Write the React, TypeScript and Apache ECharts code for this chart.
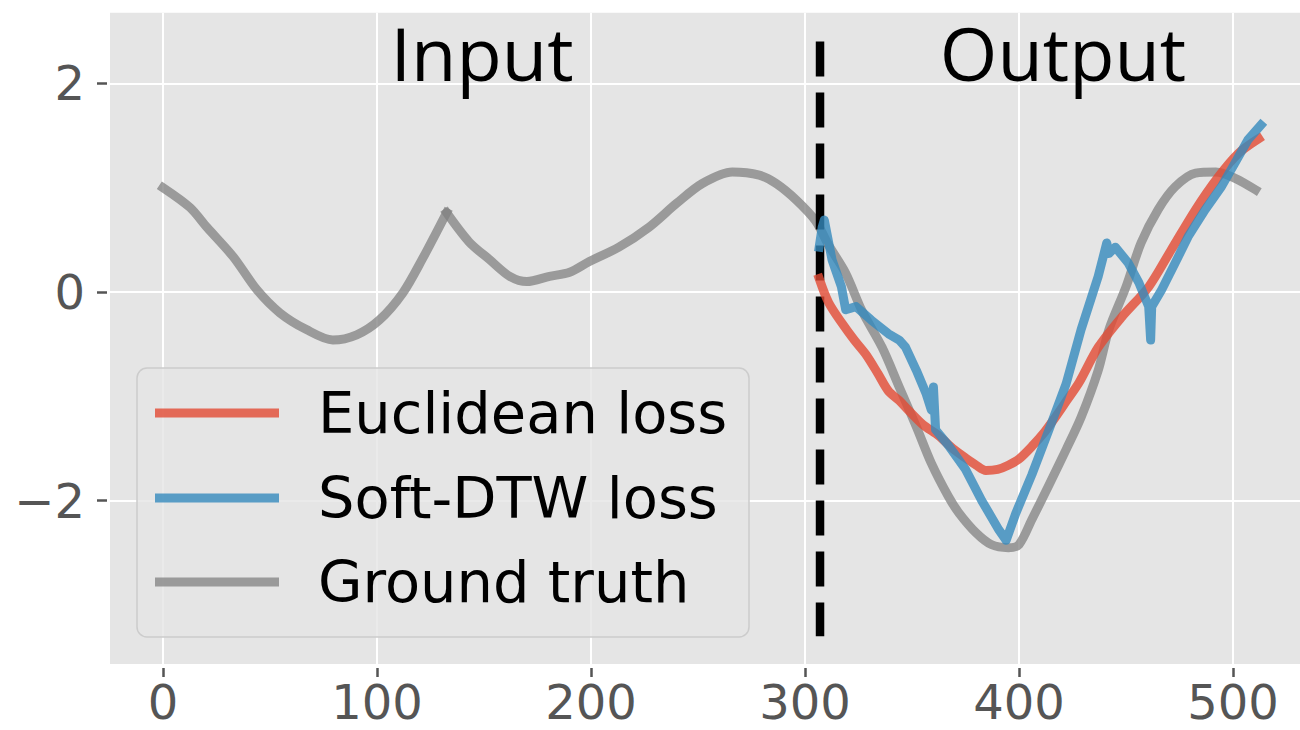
import React, { useEffect, useRef } from "react";
import * as echarts from "echarts";

// Ground truth series (input window followed by the true continuation)
const truthX = [0, 12.6, 20.5, 32.7, 43.9, 54.6, 67, 79.3, 90.5, 101, 112, 121, 132.5, 143, 152.6, 162, 170, 180.6, 190, 199, 213, 227, 240, 252, 266, 278.6, 286.5, 296, 305, 311, 319, 326.6, 336, 344, 352, 359, 367, 372, 380, 387, 395, 400, 406, 414, 422, 429, 437, 442, 450, 457, 465, 473, 482.5, 492, 501, 510.5];
const truthY = [1.0, 0.81, 0.62, 0.34, 0.02, -0.2, -0.36, -0.46, -0.41, -0.27, -0.01, 0.31, 0.76, 0.48, 0.31, 0.15, 0.1, 0.15, 0.19, 0.29, 0.43, 0.62, 0.85, 1.04, 1.15, 1.12, 1.04, 0.88, 0.68, 0.45, 0.18, -0.18, -0.53, -0.91, -1.29, -1.64, -1.96, -2.12, -2.31, -2.42, -2.45, -2.42, -2.18, -1.85, -1.51, -1.2, -0.75, -0.36, 0.05, 0.47, 0.79, 1.01, 1.14, 1.15, 1.09, 0.98];
// Index of the sharp spike in the ground truth (kept as a corner)
const truthSpikeIndex = 12;

// Forecast trained with the Euclidean loss
const euclidX = [306.6, 311, 317.3, 323, 328.5, 334, 339, 344, 348.6, 355, 362.6, 369, 375, 380, 384.5, 390, 395, 400, 406, 412, 417, 422, 428, 437, 448, 460.6, 471, 482.5, 493, 502.6, 512];
const euclidY = [0.13, -0.1, -0.3, -0.46, -0.6, -0.78, -0.95, -1.04, -1.14, -1.27, -1.38, -1.5, -1.59, -1.66, -1.71, -1.7, -1.66, -1.6, -1.48, -1.34, -1.2, -1.05, -0.87, -0.53, -0.24, 0.05, 0.4, 0.79, 1.1, 1.33, 1.47];

// Forecast trained with the soft-DTW loss
const dtwX = [306.6, 308, 309, 312.6, 317, 319, 323.8, 331, 339, 344, 347, 352, 356.5, 359, 360, 361, 367, 375, 382.6, 390.6, 394, 398.5, 406, 414, 422, 429, 437, 441, 442, 445, 451, 456, 460.6, 461.5, 462, 466.6, 473, 479, 487, 494.6, 501, 507, 513];
const dtwY = [0.43, 0.62, 0.69, 0.31, 0.05, -0.17, -0.14, -0.27, -0.4, -0.46, -0.53, -0.75, -0.97, -1.13, -0.91, -1.32, -1.47, -1.7, -2.0, -2.28, -2.38, -2.12, -1.75, -1.32, -0.88, -0.36, 0.15, 0.47, 0.37, 0.43, 0.28, 0.09, -0.14, -0.46, -0.14, 0.02, 0.28, 0.53, 0.79, 1.01, 1.24, 1.46, 1.6];

// Boundary between the input window and the forecast horizon
const splitX = 307;
const splitYRange = [2.4, -3.3];

const xTicks = [0, 100, 200, 300, 400, 500];
const yTicks = [-2, 0, 2];

const legendNames = ["Euclidean loss", "Soft-DTW loss", "Ground truth"];

const RED = "rgba(226,74,51,0.8)";
const BLUE = "rgba(52,138,189,0.8)";
const GRAY = "rgba(128,128,128,0.75)";

const zip = (xs: number[], ys: number[]) => xs.map((x, i) => [x, ys[i]]);

const tickLabelStyle = {
  fontFamily: "DejaVu Sans",
  fontSize: 48,
  lineHeight: 44,
  color: "#555555",
};

const fmt = (v: number) => (v < 0 ? "\u2212" + Math.abs(v) : String(v));

export default function App() {
  const ref = useRef<HTMLDivElement>(null);

  useEffect(() => {
    if (!ref.current) return;
    const chart = echarts.init(ref.current, undefined, { renderer: "svg" });

    const lineSeries = (name: string, data: number[][], color: string, smooth: number | boolean) => ({
      name,
      type: "line",
      data,
      smooth,
      showSymbol: false,
      symbol: "none",
      lineStyle: { color, width: 9, cap: "square", join: "round" },
      silent: true,
    });

    const truth = zip(truthX, truthY);
    const legendColors = [RED, BLUE, GRAY];
    const legendRowY = [413, 498, 582];

    chart.setOption({
      animation: false,
      backgroundColor: "#ffffff",
      grid: { left: 110, top: 12.7, right: 0, bottom: 66, show: true, backgroundColor: "#e5e5e5", borderWidth: 0 },
      xAxis: {
        type: "value",
        min: -24.8,
        max: 531.3,
        splitNumber: 5,
        offset: 4,
        axisLine: { show: false, onZero: false },
        axisTick: { show: true, length: 9, lineStyle: { color: "#555555", width: 2.5 }, customValues: xTicks },
        axisLabel: { ...tickLabelStyle, margin: 12, customValues: xTicks, formatter: fmt },
        splitLine: { show: true, lineStyle: { color: "#ffffff", width: 2 } },
      },
      yAxis: {
        type: "value",
        min: -3.565,
        max: 2.677,
        splitNumber: 3,
        offset: 3,
        axisLine: { show: false, onZero: false },
        axisTick: { show: true, length: 10, lineStyle: { color: "#555555", width: 2.5 }, customValues: yTicks },
        axisLabel: { ...tickLabelStyle, margin: 22, customValues: yTicks, formatter: fmt },
        splitLine: { show: true, lineStyle: { color: "#ffffff", width: 2 } },
      },
      series: [
        lineSeries("Ground truth", truth.slice(0, truthSpikeIndex + 1), GRAY, 0.3),
        lineSeries("Ground truth", truth.slice(truthSpikeIndex), GRAY, 0.3),
        {
          type: "line",
          data: [
            [splitX, splitYRange[0]],
            [splitX, splitYRange[1]],
          ],
          showSymbol: false,
          symbol: "none",
          silent: true,
          lineStyle: { color: "#000000", width: 8.5, type: [35, 16], cap: "butt" },
        },
        lineSeries("Euclidean loss", zip(euclidX, euclidY), RED, 0.3),
        lineSeries("Soft-DTW loss", zip(dtwX, dtwY), BLUE, false),
      ],
      graphic: [
        {
          type: "text",
          x: 482,
          y: 52,
          z: 50,
          style: { text: "Input", fontFamily: "Open Sans", fontSize: 74, fill: "#000000", align: "center", verticalAlign: "middle" },
        },
        {
          type: "text",
          x: 1063,
          y: 52,
          z: 50,
          style: { text: "Output", fontFamily: "Open Sans", fontSize: 74, fill: "#000000", align: "center", verticalAlign: "middle" },
        },
        {
          type: "rect",
          z: 100,
          shape: { x: 137, y: 368, width: 612, height: 269, r: 10 },
          style: { fill: "rgba(229,229,229,0.8)", stroke: "#cccccc", lineWidth: 1.5 },
        },
        ...legendNames.flatMap((name, i) => [
          {
            type: "line",
            z: 101,
            shape: { x1: 155, y1: legendRowY[i], x2: 279, y2: legendRowY[i] },
            style: { stroke: legendColors[i], lineWidth: 9 },
          },
          {
            type: "text",
            z: 101,
            x: 318,
            y: legendRowY[i],
            style: { text: name, fontFamily: "DejaVu Sans", fontSize: 57.5, fill: "#000000", align: "left", verticalAlign: "middle" },
          },
        ]),
      ],
    });

    return () => chart.dispose();
  }, []);

  return <div ref={ref} style={{ position: "fixed", left: 0, top: 0, width: 1300, height: 730 }} />;
}
